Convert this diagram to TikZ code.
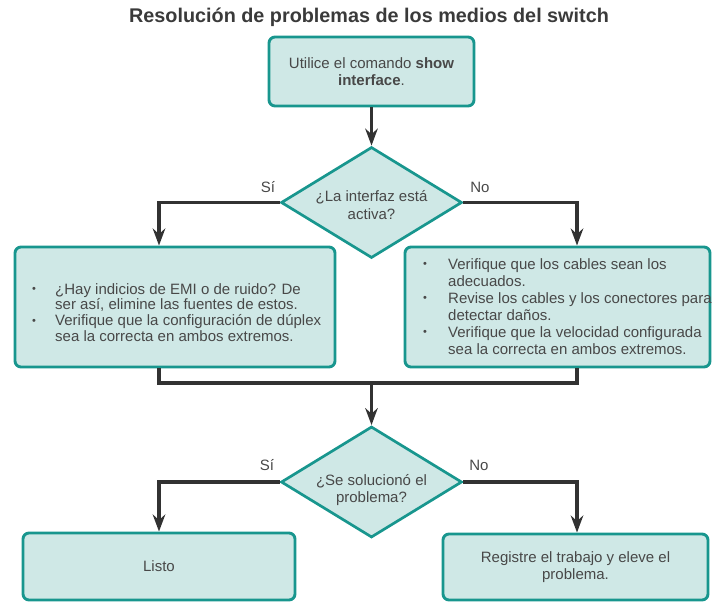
\documentclass[tikz,border=0pt]{standalone}
\usepackage{fontspec}
\setmainfont{Liberation Sans}
\usetikzlibrary{shapes.geometric,arrows.meta}
\definecolor{boxfill}{RGB}{207,232,230}
\definecolor{boxline}{RGB}{24,150,142}
\definecolor{txt}{RGB}{72,72,72}
\definecolor{titlec}{RGB}{58,58,58}
\definecolor{arr}{RGB}{50,50,50}
\newcommand{\mybul}{\raisebox{1.2pt}{\fontsize{11}{11}\selectfont\textbullet}}
\begin{document}
\begin{tikzpicture}[x=1pt,y=-1pt,
  box/.style={draw=boxline,fill=boxfill,line width=2.9pt,rounded corners=6pt,inner sep=0pt,
    font=\fontsize{15}{17.5}\selectfont,text=txt,align=center},
  dia/.style={diamond,draw=boxline,fill=boxfill,line width=2.7pt,inner sep=0pt,
    minimum width=181pt,minimum height=111pt},
  txtnode/.style={font=\fontsize{15}{17.5}\selectfont,text=txt,align=center,inner sep=0pt},
  listnode/.style={text=txt,inner sep=0pt,anchor=base west},
  conn/.style={draw=arr,line width=3.3pt},
  arrowc/.style={conn,-{Stealth[length=17pt,width=12.5pt,inset=5.5pt]}},
]
\useasboundingbox (0,0) rectangle (712,602);

\node[inner sep=0pt,font=\bfseries\fontsize{19.8}{22}\selectfont,text=titlec] (title) at (369,17)
  {Resolución de problemas de los medios del switch};

\node[box,minimum width=205pt,minimum height=69pt] (start) at (371.5,71.5)
  {Utilice el comando \textbf{show}\\\textbf{interface}.};

\node[dia] (d1) at (371.5,202.5) {};
\node[txtnode] (d1t) at (371.5,205) {¿La interfaz está\\activa?};

\node[box,minimum width=320pt,minimum height=120pt] (b1) at (175,307) {};
\node[box,minimum width=305pt,minimum height=120pt] (b2) at (557.5,307) {};

\node[listnode] (b1t) at (32,294) {\fontsize{15}{15.6}\selectfont
  \begin{tabular}[t]{@{}p{23pt}@{}l@{}}
  \mybul & ¿Hay indicios de EMI o de ruido? De\\
         & ser así, elimine las fuentes de estos.\\
  \mybul & Verifique que la configuración de dúplex\\
         & sea la correcta en ambos extremos.
  \end{tabular}};

\node[listnode] (b2t) at (423,269) {\fontsize{15}{17}\selectfont
  \begin{tabular}[t]{@{}p{25pt}@{}l@{}}
  \mybul & Verifique que los cables sean los\\
         & adecuados.\\
  \mybul & Revise los cables y los conectores para\\
         & detectar daños.\\
  \mybul & Verifique que la velocidad configurada\\
         & sea la correcta en ambos extremos.
  \end{tabular}};

\coordinate (m) at (371.5,383);

\node[dia] (d2) at (371.5,482) {};
\node[txtnode] (d2t) at (371.5,490) {¿Se solucionó el\\problema?};

\node[box,minimum width=272pt,minimum height=67pt] (ok) at (159,566.5) {Listo};
\node[box,minimum width=265pt,minimum height=66pt] (esc) at (575.5,567) {Registre el trabajo y eleve el\\problema.};

\node[txtnode] (si1) at (268,187) {Sí};
\node[txtnode] (no1) at (480,187) {No};
\node[txtnode] (si2) at (267,465) {Sí};
\node[txtnode] (no2) at (479,465) {No};

\draw[arrowc] (start.south) -- (d1.north);
\draw[arrowc] (d1.west) -| ([xshift=-16pt]b1.north);
\draw[arrowc] (d1.east) -| ([xshift=19.5pt]b2.north);
\draw[conn] ([xshift=-16pt]b1.south) |- (m) -| ([xshift=19.5pt]b2.south);
\draw[arrowc] (m) -- (d2.north);
\draw[arrowc] (d2.west) -| (ok.north);
\draw[arrowc] (d2.east) -| ([xshift=1.5pt]esc.north);
\end{tikzpicture}
\end{document}
